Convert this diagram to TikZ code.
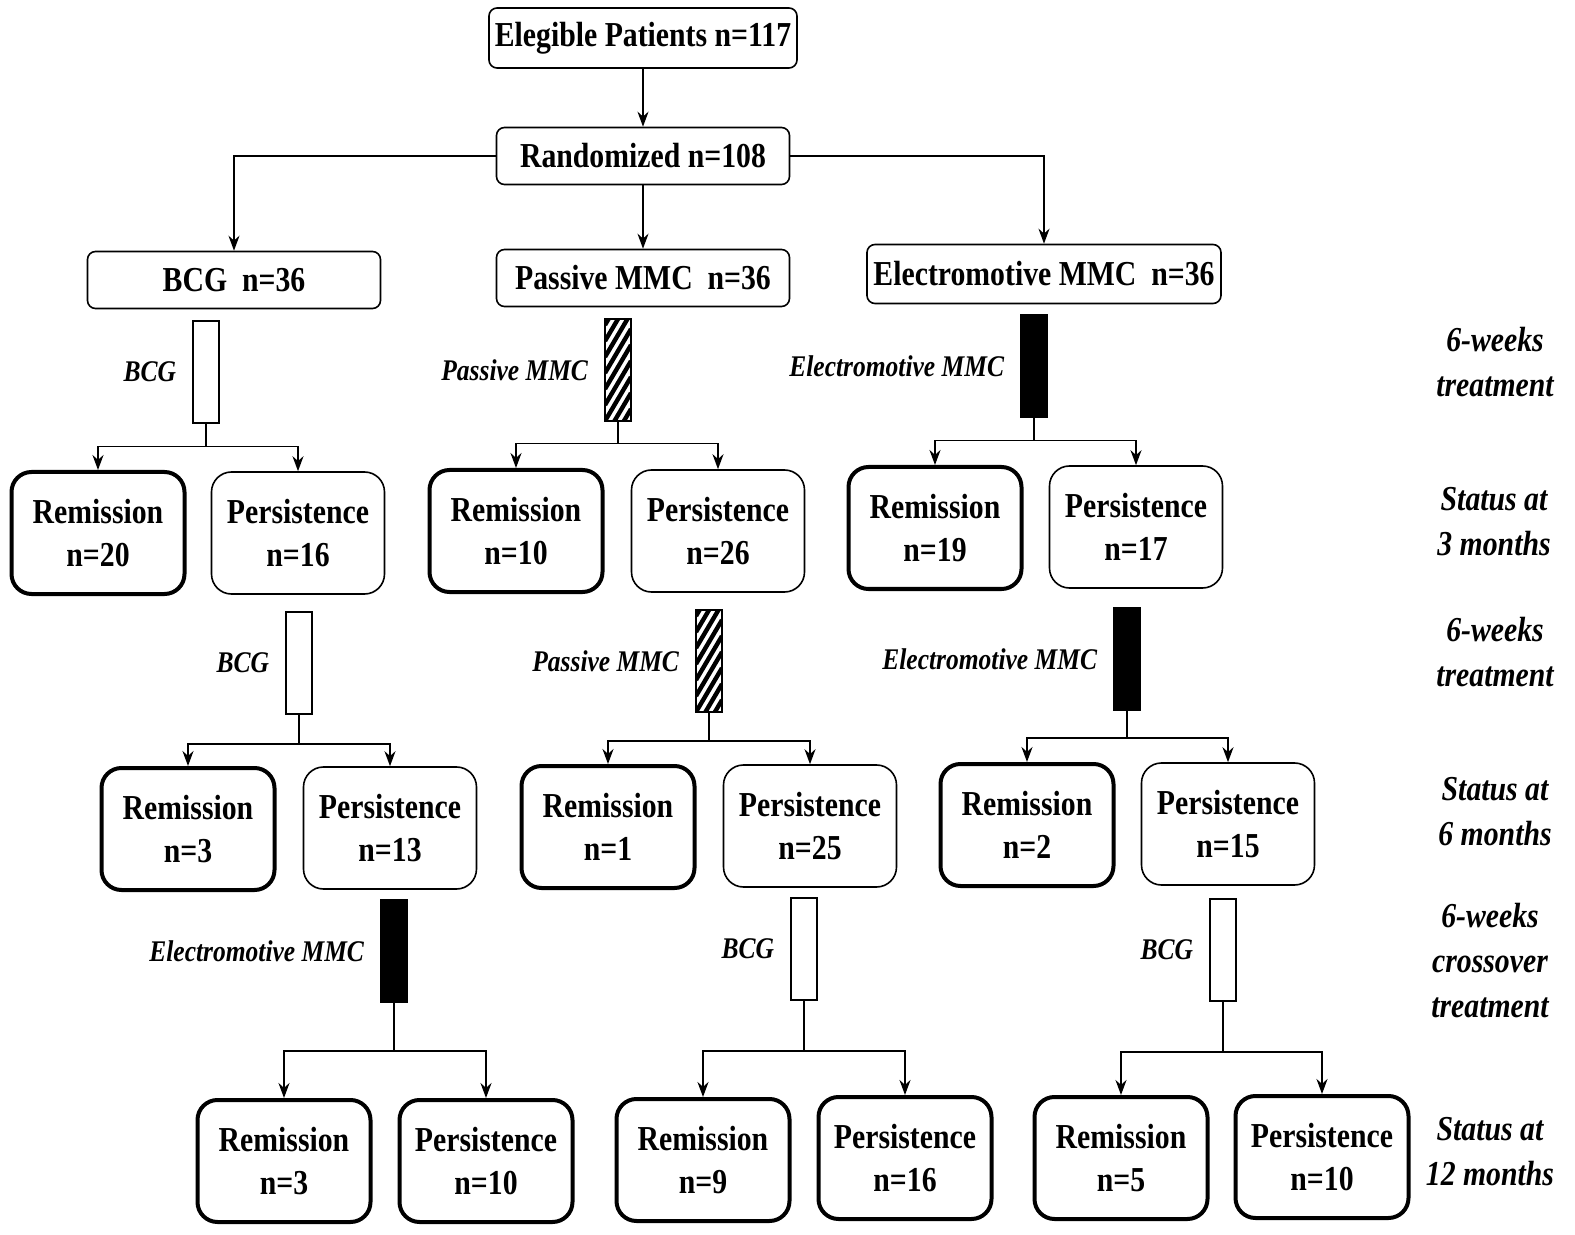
\documentclass[tikz,border=0pt]{standalone}
\usepackage{fontspec}
\setmainfont[FakeStretch=0.85]{Liberation Serif}
\usetikzlibrary{arrows.meta,positioning}

\tikzset{
  box/.style={draw, rounded corners=4pt, line width=0.8pt, inner sep=2pt,
    font=\fontsize{17.5}{20}\selectfont\bfseries},
  stat/.style={draw, rounded corners=10pt, line width=0.8pt, align=center,
    minimum width=86.5pt, minimum height=61pt,
    font=\fontsize{17.5}{21.5}\selectfont\bfseries},
  remit/.style={stat, line width=2pt},
  bar/.style={draw, line width=0.6pt, minimum width=13pt, minimum height=51pt, inner sep=0pt},
  whitebar/.style={bar, fill=white},
  blackbar/.style={bar, fill=black},
  hatchbar/.style={bar, path picture={
      \foreach \k in {-3,...,8}
        \draw[line width=2.2pt] ([yshift=\k*8pt]path picture bounding box.south west) -- ++(13pt,22pt);}},
  drug/.style={inner sep=0pt, font=\fontsize{15}{17}\selectfont\bfseries\itshape},
  side/.style={align=center, font=\fontsize{17.5}{22.5}\selectfont\bfseries\itshape},
  arr/.style={-{Stealth[length=7.5pt,width=5.5pt]}, line width=0.9pt},
}

\begin{document}
\begin{tikzpicture}[x=0.5pt,y=-0.5pt,node distance=8pt]
\useasboundingbox (0,0) rectangle (1575,1235);

% enrolment and randomisation
\node[box, minimum width=154pt, minimum height=30pt] (elig) at (643,38) {Elegible Patients n=117};
\node[box, minimum width=146.5pt, minimum height=28.5pt] (rand) at (643,156) {Randomized n=108};
\node[box, minimum width=146.5pt, minimum height=28.5pt] (bcg) at (234,280) {BCG\ \ n=36};
\node[box, minimum width=146.5pt, minimum height=28.5pt] (pmmc) at (643,278) {Passive MMC\ \ n=36};
\node[box, minimum width=177pt, minimum height=29.5pt] (emmc) at (1044,274) {Electromotive MMC\ \ n=36};

\draw[arr] (elig) -- (rand);
\draw[arr] (rand.west) -| (bcg.north);
\draw[arr] (rand) -- (pmmc);
\draw[arr] (rand.east) -| (emmc.north);

% first 6 weeks
\node[whitebar] (b1) at (206,372) {};
\node[hatchbar] (b2) at (618,370) {};
\node[blackbar] (b3) at (1034,366) {};
\node[drug, left=of b1] (l1) {BCG};
\node[drug, left=of b2] (l2) {Passive MMC};
\node[drug, left=of b3] (l3) {Electromotive MMC};

% status at 3 months
\node[remit] (r1) at (98,533) {Remission\\n=20};
\node[stat] (p1) at (298,533) {Persistence\\n=16};
\node[remit] (r2) at (516,531) {Remission\\n=10};
\node[stat] (p2) at (718,531) {Persistence\\n=26};
\node[remit] (r3) at (935,528) {Remission\\n=19};
\node[stat] (p3) at (1136,527) {Persistence\\n=17};

\draw[arr] (b1.south) -- ++(0,23) -| (r1.north);
\draw[arr] (b1.south) -- ++(0,23) -| (p1.north);
\draw[arr] (b2.south) -- ++(0,22) -| (r2.north);
\draw[arr] (b2.south) -- ++(0,22) -| (p2.north);
\draw[arr] (b3.south) -- ++(0,23) -| (r3.north);
\draw[arr] (b3.south) -- ++(0,23) -| (p3.north);

% second 6 weeks
\node[whitebar] (b4) at (299,663) {};
\node[hatchbar] (b5) at (709,661) {};
\node[blackbar] (b6) at (1127,659) {};
\node[drug, left=of b4] (l4) {BCG};
\node[drug, left=of b5] (l5) {Passive MMC};
\node[drug, left=of b6] (l6) {Electromotive MMC};

% status at 6 months
\node[remit] (r4) at (188,829) {Remission\\n=3};
\node[stat] (p4) at (390,828) {Persistence\\n=13};
\node[remit] (r5) at (608,827) {Remission\\n=1};
\node[stat] (p5) at (810,826) {Persistence\\n=25};
\node[remit] (r6) at (1027,825) {Remission\\n=2};
\node[stat] (p6) at (1228,824) {Persistence\\n=15};

\draw[arr] (b4.south) -- ++(0,29) -| (r4.north);
\draw[arr] (b4.south) -- ++(0,29) -| (p4.north);
\draw[arr] (b5.south) -- ++(0,28) -| (r5.north);
\draw[arr] (b5.south) -- ++(0,28) -| (p5.north);
\draw[arr] (b6.south) -- ++(0,27) -| (r6.north);
\draw[arr] (b6.south) -- ++(0,27) -| (p6.north);

% crossover
\node[blackbar] (b7) at (394,951) {};
\node[whitebar] (b8) at (804,949) {};
\node[whitebar] (b9) at (1223,950) {};
\node[drug, left=of b7] (l7) {Electromotive MMC};
\node[drug, left=of b8] (l8) {BCG};
\node[drug, left=of b9] (l9) {BCG};

% status at 12 months
\node[remit] (r7) at (284,1161) {Remission\\n=3};
\node[remit] (p7) at (486,1161) {Persistence\\n=10};
\node[remit] (r8) at (703,1160) {Remission\\n=9};
\node[remit] (p8) at (905,1158) {Persistence\\n=16};
\node[remit] (r9) at (1121,1158) {Remission\\n=5};
\node[remit] (p9) at (1322,1157) {Persistence\\n=10};

\draw[arr] (b7.south) -- ++(0,48) -| (r7.north);
\draw[arr] (b7.south) -- ++(0,48) -| (p7.north);
\draw[arr] (b8.south) -- ++(0,50) -| (r8.north);
\draw[arr] (b8.south) -- ++(0,50) -| (p8.north);
\draw[arr] (b9.south) -- ++(0,50) -| (r9.north);
\draw[arr] (b9.south) -- ++(0,50) -| (p9.north);

% time line on the right
\node[side] (t1) at (1495,362) {6-weeks\\treatment};
\node[side] (t2) at (1494,522) {Status at\\3 months};
\node[side] (t3) at (1495,652) {6-weeks\\treatment};
\node[side] (t4) at (1495,812) {Status at\\6 months};
\node[side] (t5) at (1490,961) {6-weeks\\crossover\\treatment};
\node[side] (t6) at (1490,1152) {Status at\\12 months};

\end{tikzpicture}
\end{document}
